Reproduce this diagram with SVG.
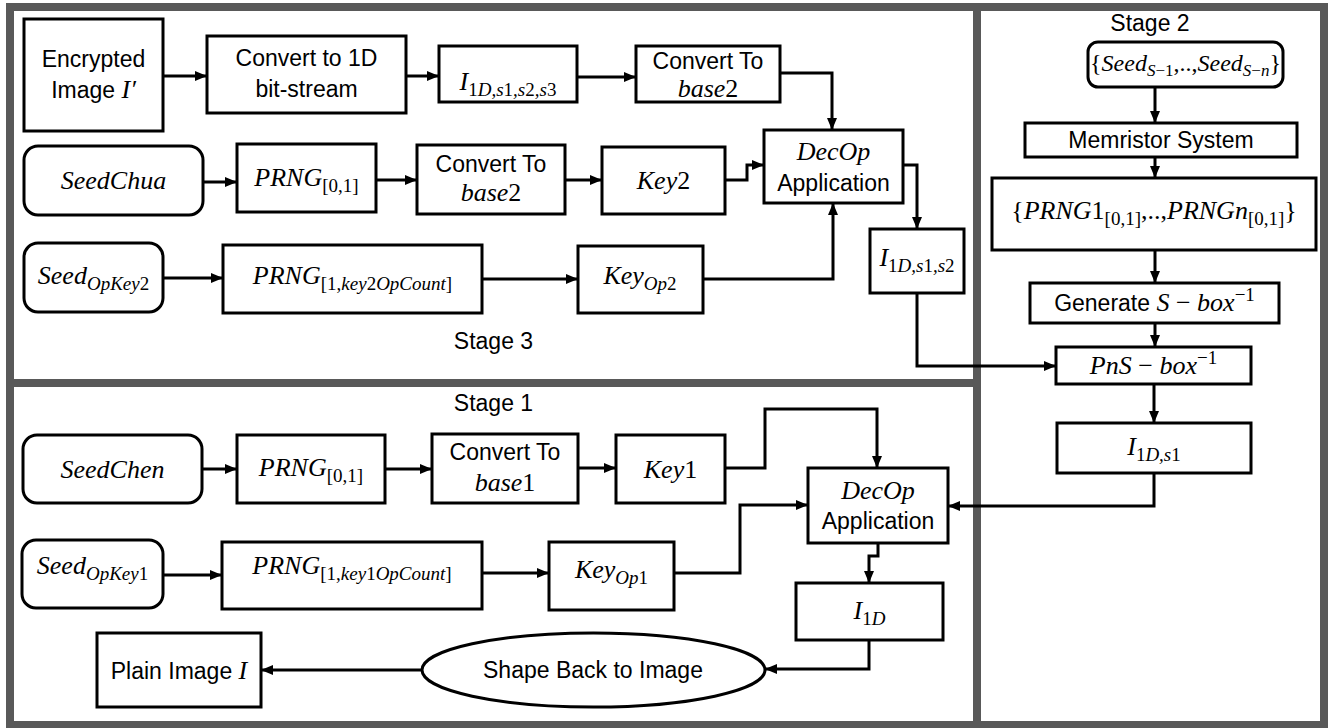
<svg xmlns="http://www.w3.org/2000/svg" width="1333" height="728" viewBox="0 0 1333 728">
<style>
.frame{fill:none;stroke:#595959;stroke-width:8}
.box{fill:#fff;stroke:#000;stroke-width:3}
.conn path{fill:none;stroke:#000;stroke-width:3}
.conn path.a{marker-end:url(#ah)}
.t{font-family:"Liberation Sans",Arial,sans-serif;font-size:23px;fill:#000;text-anchor:middle}
.m{font-family:"Liberation Serif","Times New Roman",serif;font-style:italic;font-size:26px}
.u{font-style:normal}
.s{font-size:19px}
.m24{font-size:24px}
.s17{font-size:17px}
</style>
<defs>
<marker id="ah" markerUnits="userSpaceOnUse" markerWidth="12" markerHeight="12" viewBox="0 0 12 12" refX="12" refY="6" orient="auto">
<path d="M0,1 L12,6 L0,11 z" fill="#000"/>
</marker>
</defs>
<rect x="0" y="0" width="1333" height="728" fill="#fff"/>
<g id="frames">
<rect class="frame" x="10" y="7" width="1314" height="718"/>
<line class="frame" x1="977" y1="7" x2="977" y2="725"/>
<line class="frame" x1="10" y1="383" x2="977" y2="383"/>
<text class="t" x="493.5" y="349">Stage 3</text>
<text class="t" x="1150" y="31">Stage 2</text>
<text class="t" x="493.5" y="411">Stage 1</text>
</g>
<g id="connectors" class="conn">
<path class="a" d="M163,76 H207"/>
<path class="a" d="M406,76 H439"/>
<path class="a" d="M577,77 H636"/>
<path class="a" d="M780,73 H832 V130"/>
<path class="a" d="M203,182 H237"/>
<path class="a" d="M376,180 H417"/>
<path class="a" d="M565,180 H602"/>
<path class="a" d="M725,180 H747 V165 H764"/>
<path class="a" d="M903,165 H917 V229"/>
<path class="a" d="M163,278 H223"/>
<path class="a" d="M482,279 H578"/>
<path class="a" d="M703,279 H833 V203"/>
<path class="a" d="M917,293 V366 H1056"/>
<path class="a" d="M1155,87 V123"/>
<path class="a" d="M1155,157 V178"/>
<path class="a" d="M1155,250 V283"/>
<path class="a" d="M1155,323 V347"/>
<path class="a" d="M1154,384 V423"/>
<path class="a" d="M1154,473 V506 H948"/>
<path class="a" d="M202,469 H237"/>
<path class="a" d="M385,469 H432"/>
<path class="a" d="M578,468 H616"/>
<path class="a" d="M725,468 H765 V409 H877 V468"/>
<path class="a" d="M163,575 H222"/>
<path class="a" d="M482,573 H549"/>
<path class="a" d="M674,573 H740 V505 H808"/>
<path class="a" d="M878,543 V556 H869 V583"/>
<path class="a" d="M869,640 V669 H765"/>
<path class="a" d="M422,670 H261"/>
</g>
<g id="encrypted-image">
<rect class="box" x="24" y="19" width="139" height="112"/>
<text class="t" x="93.5" y="67">Encrypted</text>
<text class="t" x="93.5" y="98">Image <tspan class="m">I′</tspan></text>
</g>
<g id="convert-1d">
<rect class="box" x="207" y="36" width="199" height="77"/>
<text class="t" x="306.5" y="66">Convert to 1D</text>
<text class="t" x="306.5" y="97">bit-stream</text>
</g>
<g id="i-s1s2s3">
<rect class="box" x="439" y="46" width="138" height="56"/>
<text class="t m" x="508" y="90">I<tspan class="s" dy="6"><tspan class="u">1</tspan>D,s<tspan class="u">1</tspan>,s<tspan class="u">2</tspan>,s<tspan class="u">3</tspan></tspan></text>
</g>
<g id="convert-base2-a">
<rect class="box" x="636" y="46" width="144" height="56"/>
<text class="t" x="708" y="69">Convert To</text>
<text class="t m" x="708" y="97">base<tspan class="u">2</tspan></text>
</g>
<g id="decop-3">
<rect class="box" x="764" y="130" width="139" height="73"/>
<text class="t m" x="833.5" y="160">DecOp</text>
<text class="t" x="833.5" y="191">Application</text>
</g>
<g id="seed-chua">
<rect class="box" x="24" y="146" width="179" height="69" rx="14"/>
<text class="t m" x="113.5" y="189">SeedChua</text>
</g>
<g id="prng-chua">
<rect class="box" x="237" y="144" width="139" height="68"/>
<text class="t m" x="306.5" y="186">PRNG<tspan class="s u" dy="6">[0,1]</tspan></text>
</g>
<g id="convert-base2-b">
<rect class="box" x="417" y="145" width="148" height="69"/>
<text class="t" x="491" y="172">Convert To</text>
<text class="t m" x="491" y="201">base<tspan class="u">2</tspan></text>
</g>
<g id="key2">
<rect class="box" x="602" y="147" width="123" height="67"/>
<text class="t m" x="663.5" y="189">Key<tspan class="u">2</tspan></text>
</g>
<g id="seed-opkey2">
<rect class="box" x="24" y="243" width="139" height="69" rx="14"/>
<text class="t m" x="93.5" y="284">Seed<tspan class="s" dy="6">OpKey<tspan class="u">2</tspan></tspan></text>
</g>
<g id="prng-key2">
<rect class="box" x="223" y="245" width="259" height="68"/>
<text class="t m" x="352.5" y="284">PRNG<tspan class="s" dy="6"><tspan class="u">[1,</tspan>key<tspan class="u">2</tspan>OpCount<tspan class="u">]</tspan></tspan></text>
</g>
<g id="key-op2">
<rect class="box" x="578" y="246" width="125" height="67"/>
<text class="t m" x="640" y="284">Key<tspan class="s" dy="6">Op<tspan class="u">2</tspan></tspan></text>
</g>
<g id="i-s1s2">
<rect class="box" x="870" y="229" width="94" height="64"/>
<text class="t m" x="917" y="266">I<tspan class="s" dy="6"><tspan class="u">1</tspan>D,s<tspan class="u">1</tspan>,s<tspan class="u">2</tspan></tspan></text>
</g>
<g id="seed-set">
<rect class="box" x="1088" y="42" width="195" height="45" rx="10"/>
<text class="t m m24" x="1185.5" y="71"><tspan class="u">{</tspan>Seed<tspan class="s17" dy="5">S<tspan class="u">−1</tspan></tspan><tspan class="u" dy="-5">,..,</tspan>Seed<tspan class="s17" dy="5">S<tspan class="u">−</tspan>n</tspan><tspan class="u" dy="-5">}</tspan></text>
</g>
<g id="memristor">
<rect class="box" x="1025" y="123" width="272" height="34"/>
<text class="t" x="1161" y="148">Memristor System</text>
</g>
<g id="prng-set">
<rect class="box" x="992" y="178" width="324" height="72"/>
<text class="t m" x="1154" y="219"><tspan class="u">{</tspan>PRNG<tspan class="u">1</tspan><tspan class="s u" dy="6">[0,1]</tspan><tspan class="u" dy="-6">,..,</tspan>PRNGn<tspan class="s u" dy="6">[0,1]</tspan><tspan class="u" dy="-6">}</tspan></text>
</g>
<g id="generate-sbox">
<rect class="box" x="1030" y="283" width="249" height="40"/>
<text class="t" x="1154.5" y="311">Generate <tspan class="m">S</tspan><tspan class="m u"> − </tspan><tspan class="m">box</tspan><tspan class="m s u" dy="-10">−1</tspan></text>
</g>
<g id="pns-box">
<rect class="box" x="1056" y="347" width="195" height="37"/>
<text class="t m" x="1153.5" y="374">PnS<tspan class="u"> − </tspan>box<tspan class="s u" dy="-10">−1</tspan></text>
</g>
<g id="i-s1">
<rect class="box" x="1057" y="423" width="194" height="50"/>
<text class="t m" x="1154" y="455">I<tspan class="s" dy="6"><tspan class="u">1</tspan>D,s<tspan class="u">1</tspan></tspan></text>
</g>
<g id="seed-chen">
<rect class="box" x="23" y="435" width="179" height="68" rx="14"/>
<text class="t m" x="112.5" y="478">SeedChen</text>
</g>
<g id="prng-chen">
<rect class="box" x="237" y="435" width="148" height="68"/>
<text class="t m" x="311" y="476">PRNG<tspan class="s u" dy="6">[0,1]</tspan></text>
</g>
<g id="convert-base1">
<rect class="box" x="432" y="434" width="146" height="69"/>
<text class="t" x="505" y="460">Convert To</text>
<text class="t m" x="505" y="491">base<tspan class="u">1</tspan></text>
</g>
<g id="key1">
<rect class="box" x="616" y="435" width="109" height="68"/>
<text class="t m" x="670.5" y="478">Key<tspan class="u">1</tspan></text>
</g>
<g id="decop-1">
<rect class="box" x="808" y="468" width="140" height="75"/>
<text class="t m" x="878" y="499">DecOp</text>
<text class="t" x="878" y="529">Application</text>
</g>
<g id="seed-opkey1">
<rect class="box" x="22" y="540" width="141" height="68" rx="14"/>
<text class="t m" x="92.5" y="574">Seed<tspan class="s" dy="6">OpKey<tspan class="u">1</tspan></tspan></text>
</g>
<g id="prng-key1">
<rect class="box" x="222" y="542" width="260" height="67"/>
<text class="t m" x="352" y="574">PRNG<tspan class="s" dy="6"><tspan class="u">[1,</tspan>key<tspan class="u">1</tspan>OpCount<tspan class="u">]</tspan></tspan></text>
</g>
<g id="key-op1">
<rect class="box" x="549" y="542" width="125" height="68"/>
<text class="t m" x="611.5" y="578">Key<tspan class="s" dy="6">Op<tspan class="u">1</tspan></tspan></text>
</g>
<g id="i-1d">
<rect class="box" x="796" y="583" width="147" height="57"/>
<text class="t m" x="869.5" y="619">I<tspan class="s" dy="6"><tspan class="u">1</tspan>D</tspan></text>
</g>
<g id="shape-back">
<ellipse class="box" cx="593.5" cy="670" rx="171.5" ry="37"/>
<text class="t" x="593" y="678">Shape Back to Image</text>
</g>
<g id="plain-image">
<rect class="box" x="97" y="633" width="164" height="74"/>
<text class="t" x="179" y="679">Plain Image <tspan class="m">I</tspan></text>
</g>
</svg>
